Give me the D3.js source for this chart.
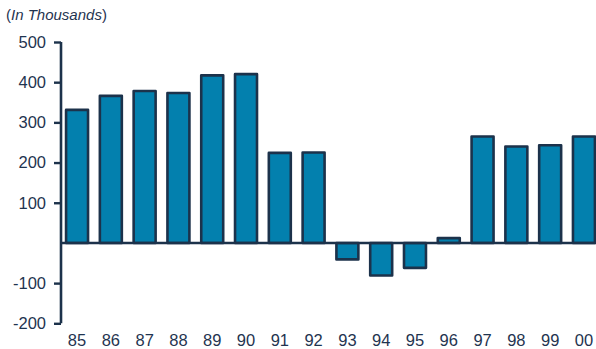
<!DOCTYPE html>
<html>
<head>
<meta charset="utf-8">
<script src="https://cdn.jsdelivr.net/npm/d3@7"></script>
<style>
  html, body { margin: 0; padding: 0; background: #fff; }
  svg { display: block; }
  text { font-family: "Liberation Sans", Arial, sans-serif; fill: #1f3450; }
</style>
</head>
<body>
<svg id="chart" width="596" height="349"></svg>
<script>
// Year labels along the bottom axis
const years = ["85","86","87","88","89","90","91","92","93","94","95","96","97","98","99","00"];
// Annual change, in thousands
const values = [331, 366, 378, 373, 417, 420, 224, 225, -41, -81, -62, 12, 265, 240, 243, 265];
// Value axis ticks
const yTicks = [500, 400, 300, 200, 100, -100, -200];

const svg = d3.select("#chart");
const W = 596, H = 349;
const axisX = 61;

const y = d3.scaleLinear().domain([-200, 500]).range([323.3, 42]);
const x = d3.scaleBand().domain(years).range([61, 600]).paddingInner(0.35).paddingOuter(0.15);

const ink = "#1c324b";

// Unit note
svg.append("text")
  .attr("x", 6).attr("y", 20)
  .attr("font-size", 15)
  .html('(<tspan font-style="italic">In Thousands</tspan>)');

// Bars
svg.append("g").selectAll("rect")
  .data(values)
  .join("rect")
  .attr("x", (d, i) => x(years[i]))
  .attr("width", x.bandwidth())
  .attr("y", d => y(Math.max(0, d)))
  .attr("height", d => Math.abs(y(d) - y(0)))
  .attr("fill", "#0380ae")
  .attr("stroke", ink)
  .attr("stroke-width", 2.6)
  .attr("stroke-linejoin", "round");

// Zero baseline across the plot
svg.append("line")
  .attr("x1", axisX).attr("x2", W)
  .attr("y1", y(0)).attr("y2", y(0))
  .attr("stroke", ink).attr("stroke-width", 2.4);

// Value axis (plain hyphen for negatives)
const yAxis = d3.axisLeft(y).tickValues(yTicks).tickSize(7).tickPadding(8)
  .tickFormat(d => String(d));
const gy = svg.append("g").attr("transform", `translate(${axisX},0)`).call(yAxis);
gy.select(".domain").attr("stroke", ink).attr("stroke-width", 2.6)
  .attr("d", `M0,${y(500)}V${y(-200)}`);
gy.selectAll(".tick line").attr("stroke", ink).attr("stroke-width", 2.4);
gy.selectAll(".tick text").attr("font-size", 16.5).attr("fill", "#1f3450")
  .style("font-family", '"Liberation Sans", Arial, sans-serif');

// Year labels
svg.append("g").selectAll("text")
  .data(years)
  .join("text")
  .attr("x", d => x(d) + x.bandwidth() / 2)
  .attr("y", 345.5)
  .attr("text-anchor", "middle")
  .attr("font-size", 16.5)
  .text(d => d);
</script>
</body>
</html>
